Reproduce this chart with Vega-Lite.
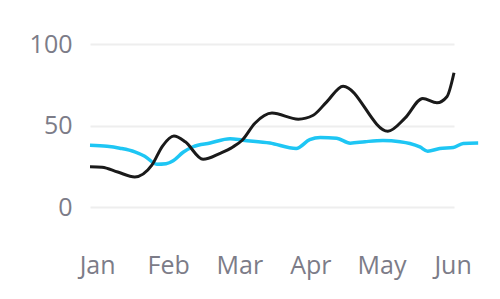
{
  "$schema": "https://vega.github.io/schema/vega-lite/v6.json",
  "width": 364,
  "height": 196,
  "autosize": "none",
  "padding": {"left": 90, "top": 44, "right": 46, "bottom": 59},
  "background": "white",
  "config": {"view": {"stroke": null}, "font": "Open Sans"},
  "datasets": {
    "black": [
      {"t": -0.10, "v": 24.8}, {"t": 0.07, "v": 24.5}, {"t": 0.29, "v": 21.6},
      {"t": 0.53, "v": 18.6}, {"t": 0.77, "v": 25.8}, {"t": 0.92, "v": 37.5},
      {"t": 1.08, "v": 43.6}, {"t": 1.24, "v": 40.1}, {"t": 1.49, "v": 29.4},
      {"t": 1.73, "v": 33.1}, {"t": 1.91, "v": 37.0}, {"t": 2.04, "v": 41.1},
      {"t": 2.22, "v": 51.5}, {"t": 2.46, "v": 57.7}, {"t": 2.83, "v": 54.0},
      {"t": 3.04, "v": 56.4}, {"t": 3.23, "v": 64.6}, {"t": 3.46, "v": 74.2},
      {"t": 4.09, "v": 46.6}, {"t": 4.33, "v": 54.6},
      {"t": 4.58, "v": 66.7}, {"t": 4.78, "v": 64.0}, {"t": 4.92, "v": 67.7},
      {"t": 5.02, "v": 82.4}
    ],
    "cyan": [
      {"t": -0.10, "v": 38.0}, {"t": 0.14, "v": 37.4}, {"t": 0.32, "v": 36.2},
      {"t": 0.53, "v": 34.0}, {"t": 0.67, "v": 31.3}, {"t": 0.84, "v": 26.4},
      {"t": 0.97, "v": 26.7}, {"t": 1.07, "v": 28.5}, {"t": 1.21, "v": 33.7},
      {"t": 1.35, "v": 37.1}, {"t": 1.59, "v": 39.4}, {"t": 1.87, "v": 42.0},
      {"t": 2.05, "v": 41.1}, {"t": 2.43, "v": 39.4}, {"t": 2.80, "v": 36.0},
      {"t": 2.99, "v": 41.4}, {"t": 3.14, "v": 42.8}, {"t": 3.37, "v": 42.3},
      {"t": 3.56, "v": 39.3}, {"t": 3.77, "v": 40.2}, {"t": 4.02, "v": 40.9},
      {"t": 4.26, "v": 40.2}, {"t": 4.40, "v": 39.1}, {"t": 4.54, "v": 37.0},
      {"t": 4.65, "v": 34.4}, {"t": 4.82, "v": 36.0}, {"t": 5.01, "v": 36.6},
      {"t": 5.15, "v": 39.1}, {"t": 5.36, "v": 39.4}
    ]
  },
  "encoding": {
    "x": {
      "field": "t",
      "type": "quantitative",
      "scale": {"domain": [-0.1, 5.02], "nice": false, "zero": false},
      "axis": {
        "values": [0, 1, 2, 3, 4, 5],
        "labelExpr": "['Jan','Feb','Mar','Apr','May','Jun'][datum.value]",
        "title": null,
        "grid": false,
        "domain": false,
        "ticks": false,
        "labelFlush": false,
        "labelFontSize": 25,
        "labelColor": "#7c7c88",
        "labelPadding": 13
      }
    },
    "y": {
      "field": "v",
      "type": "quantitative",
      "scale": {"domain": [-20, 100], "nice": false, "zero": false},
      "axis": {
        "values": [0, 50, 100],
        "title": null,
        "grid": true,
        "gridColor": "#eeeeee",
        "gridWidth": 2,
        "domain": false,
        "ticks": false,
        "labelFontSize": 25,
        "labelColor": "#7c7c88",
        "labelPadding": 18
      }
    }
  },
  "layer": [
    {
      "data": {"name": "cyan"},
      "mark": {"type": "line", "interpolate": "monotone", "color": "#1ec6f4", "strokeWidth": 3.5, "clip": false}
    },
    {
      "data": {"name": "black"},
      "mark": {"type": "line", "interpolate": "monotone", "color": "#1a1a1a", "strokeWidth": 3, "clip": false}
    }
  ]
}
